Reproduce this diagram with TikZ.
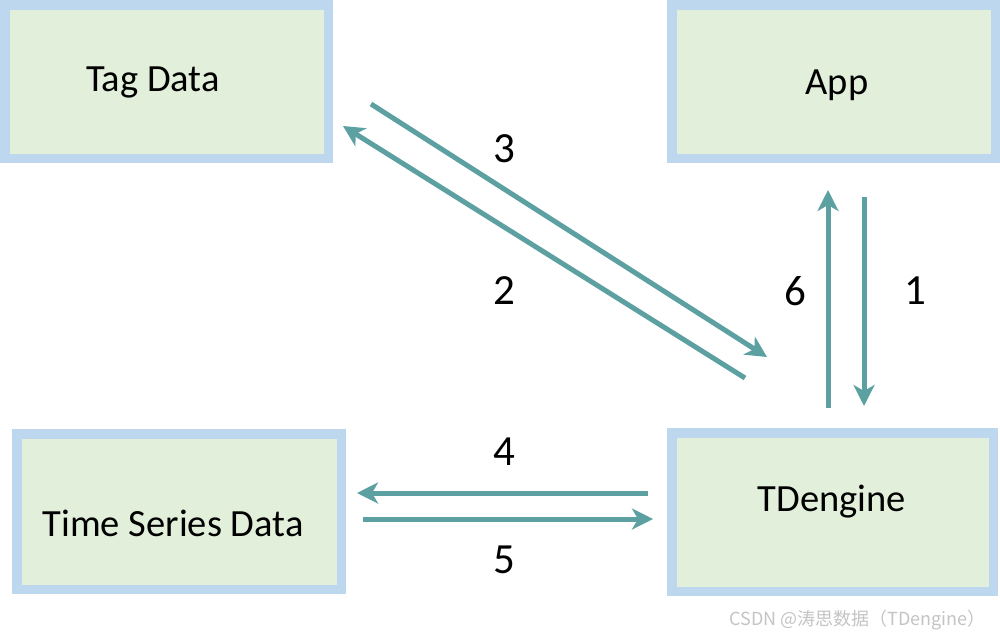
\documentclass[tikz,border=0pt]{standalone}
\usepackage{fontspec}
\setmainfont{Carlito}
\newfontfamily\cjk{Noto Sans CJK SC}
\usetikzlibrary{arrows.meta}
\definecolor{boxline}{HTML}{BDD7EE}
\definecolor{boxfill}{HTML}{E2EFDA}
\definecolor{arrowc}{HTML}{5CA0A2}
\definecolor{wm}{HTML}{C4C4C4}
\tikzset{
  box/.style={draw=boxline, fill=boxfill, line width=9.5pt, inner sep=0pt},
  lbl/.style={font=\fontsize{38.5}{40}\selectfont, inner sep=0pt},
  num/.style={font=\fontsize{43}{45}\selectfont, inner sep=0pt},
  conn/.style={draw=arrowc, line width=5pt, -{Stealth[length=21pt,width=21pt,inset=6pt]}}
}
\begin{document}
\begin{tikzpicture}[x=1pt,y=-1pt]
\useasboundingbox (0,0) rectangle (1000,638);
\fill[white] (0,0) rectangle (1000,638);
% boxes (outer minus line width)
\node[box, minimum width=323.5pt, minimum height=153.5pt] (tagbox) at (166.5,81.5) {};
\node[box, minimum width=323.5pt, minimum height=153.5pt] (appbox) at (833.5,81.5) {};
\node[box, minimum width=324.5pt, minimum height=155.5pt] (tsbox) at (179,511.5) {};
\node[box, minimum width=321.5pt, minimum height=158.5pt] (tdbox) at (832.5,512) {};
% labels
\node[lbl] (tag) at (153,82) {Tag Data};
\node[lbl] (app) at (837,85) {App};
\node[lbl] (ts) at (173,523) {Time Series Data};
\node[lbl] (td) at (832,502) {TDengine};
% connector ends
\coordinate (a3s) at (371,104); \coordinate (a3e) at (767,357);
\coordinate (a2s) at (745,378); \coordinate (a2e) at (343,126);
\coordinate (a6s) at (828,408); \coordinate (a6e) at (828,190);
\coordinate (a1s) at (864,197); \coordinate (a1e) at (864,406);
\coordinate (a4s) at (648,493); \coordinate (a4e) at (357,493);
\coordinate (a5s) at (363,519); \coordinate (a5e) at (653,519);
\draw[conn] (a3s) -- (a3e);
\draw[conn] (a2s) -- (a2e);
\draw[conn] (a6s) -- (a6e);
\draw[conn] (a1s) -- (a1e);
\draw[conn] (a4s) -- (a4e);
\draw[conn] (a5s) -- (a5e);
% numbers
\node[num] (n3) at (504,149) {3};
\node[num] (n2) at (504,291) {2};
\node[num] (n6) at (795,291) {6};
\node[num] (n1) at (915,291) {1};
\node[num] (n4) at (504,452) {4};
\node[num] (n5) at (504,560) {5};
% watermark
\node[text=wm, font=\cjk\fontsize{18}{20}\selectfont, inner sep=0pt, anchor=east] (wmark) at (986,620) {CSDN @涛思数据（TDengine）};
\end{tikzpicture}
\end{document}
